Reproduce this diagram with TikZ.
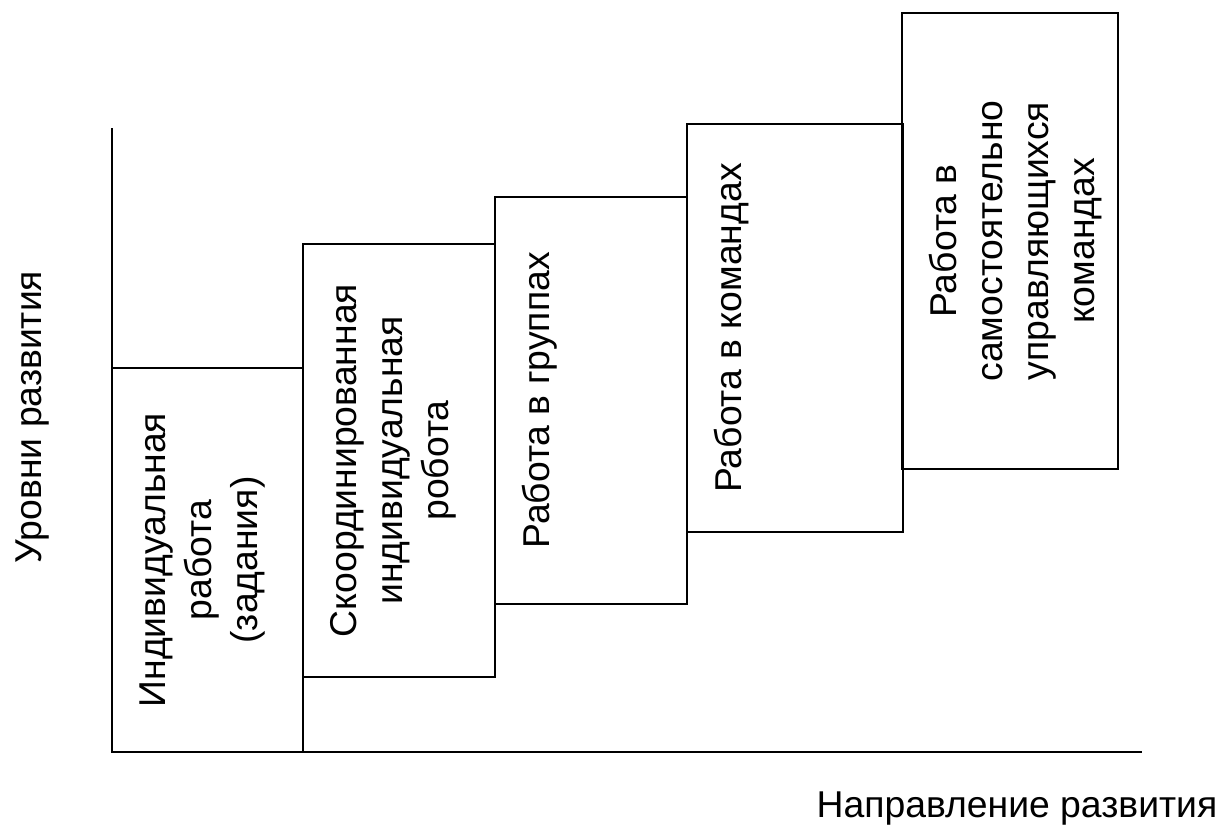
\documentclass[tikz,border=0pt]{standalone}
\usepackage{fontspec}
\setmainfont{Liberation Sans}
\usetikzlibrary{fit}
\tikzset{
  stagebox/.style={draw=black, line width=1.3pt, inner sep=0pt},
  stagetext/.style={rotate=90, anchor=north, align=center, inner sep=0pt, font=\fontsize{28}{34.5}\selectfont},
  axisline/.style={draw=black, line width=1.3pt},
  axislabel/.style={inner sep=0pt, font=\fontsize{28}{34.5}\selectfont}
}

\begin{document}
\begin{tikzpicture}[x=0.75pt, y=-0.75pt]
\useasboundingbox (0,0) rectangle (1226,825);
\foreach \i/\xa/\ya/\xb/\yb/\name in {
  1/112/368/303/752/{Индивидуальная\\работа\\(задания)},
  2/303/244/495/677/{Скоординированная\\индивидуальная\\робота},
  3/495/197/687/604/{Работа в группах},
  4/687/124/903/532/{Работа в командах},
  5/902/13/1118/469/{Работа в\\самостоятельно\\управляющихся\\командах}}{
  \node[stagebox, fit={(\xa,\ya) (\xb,\yb)}] (s\i) {};
  \node[stagetext] (t\i) at ([xshift=21pt]s\i.west) {\name};
}
% axes
\coordinate (ytop) at (112,128);
\coordinate (origin) at (112,752);
\coordinate (xend) at (1142,752);
\draw[axisline] (ytop) -- (origin) -- (xend);
\node[axislabel, rotate=90, anchor=base] (ylab) at (41,417) {Уровни развития};
\node[axislabel, anchor=base] (xlab) at (1017,817) {Направление развития};
\end{tikzpicture}
\end{document}
